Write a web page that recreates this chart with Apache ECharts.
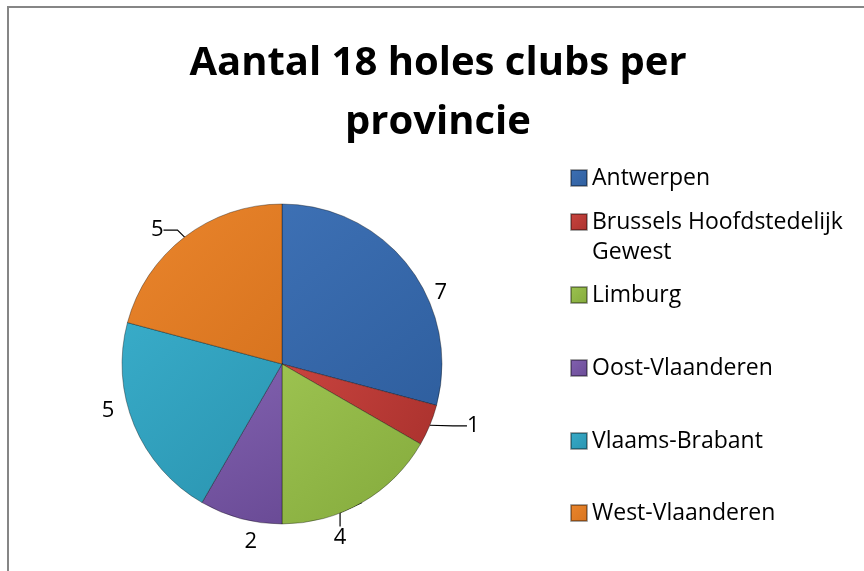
<!DOCTYPE html>
<html lang="nl">
<head>
    <meta charset="UTF-8">
    <title>Aantal 18 holes clubs per provincie</title>
    <script src="https://cdn.jsdelivr.net/npm/echarts@6/dist/echarts.min.js"></script>
    <style>
        html, body { margin: 0; padding: 0; background: #fff; }
        #main { width: 864px; height: 571px; }
    </style>
</head>
<body>
    <div id="main"></div>
</body>
<script>

    // gegevens
    var provincies = ['Antwerpen', 'Brussels Hoofdstedelijk Gewest', 'Limburg', 'Oost-Vlaanderen', 'Vlaams-Brabant', 'West-Vlaanderen'];
    var aantalClubs = [7, 1, 4, 2, 5, 5];
    var legendNames = ['Antwerpen', 'Brussels Hoofdstedelijk\nGewest', 'Limburg', 'Oost-Vlaanderen', 'Vlaams-Brabant', 'West-Vlaanderen'];

    // opmaak
    var kleuren = [
        ['#3d70b4', '#2f5f9f'],
        ['#c9443f', '#ab322e'],
        ['#9cc250', '#84aa3c'],
        ['#8262b0', '#6a4b96'],
        ['#38abc8', '#2a94b0'],
        ['#ea852c', '#d8741f']
    ];
    var legendTop = [163, 177, 280, 353, 426, 498];
    // label: extra hoek (graden) en afstand tot middelpunt, zoals Excel ze zet
    var labelHoek = [13.4, -4.6, 11.5, -5, 7.5, -5.5];
    var labelAfstand = [174, 201, 183, 180, 180, 183];
    var metLijn = [false, true, true, false, false, true];

    var cx = 282, cy = 364, straal = 160;
    var totaal = aantalClubs.reduce(function (a, b) { return a + b; }, 0);

    function grad(c) {
        return new echarts.graphic.LinearGradient(0, 0, 1, 1, [
            {offset: 0, color: c[0]},
            {offset: 1, color: c[1]}
        ]);
    }

    var pieData = provincies.map(function (p, i) {
        return {
            name: p,
            value: aantalClubs[i],
            itemStyle: {color: grad(kleuren[i])},
            labelLine: {show: metLijn[i]}
        };
    });

    var font = '"Open Sans", sans-serif';

    var legends = provincies.map(function (p, i) {
        return {
            orient: 'vertical',
            left: 570,
            top: legendTop[i],
            padding: 0,
            data: [p],
            // bij twee regels staat het blokje naast de eerste regel
            formatter: function () {
                return i === 1 ? '\n' + legendNames[i] : legendNames[i];
            },
            icon: 'rect',
            itemWidth: 16,
            itemHeight: 16,
            itemGap: 0,
            selectedMode: false,
            textStyle: {
                fontFamily: font,
                fontSize: 23,
                color: '#000',
                lineHeight: 30
            }
        };
    });

    var chart = echarts.init(document.getElementById('main'));
    chart.setOption({
        animation: false,
        title: {
            text: 'Aantal 18 holes clubs per\nprovincie',
            left: 438,
            textAlign: 'center',
            top: 34,
            padding: 0,
            textStyle: {
                fontFamily: font,
                fontWeight: 'bold',
                fontSize: 40,
                lineHeight: 59,
                color: '#000'
            }
        },
        legend: legends,
        graphic: [{
            type: 'rect',
            shape: {x: 8, y: 7, width: 900, height: 600},
            style: {fill: 'none', stroke: '#868686', lineWidth: 2},
            silent: true
        }],
        series: [{
            type: 'pie',
            center: [cx, cy],
            radius: straal,
            startAngle: 90,
            clockwise: true,
            data: pieData,
            itemStyle: {
                borderColor: 'rgba(0,0,0,0.35)',
                borderWidth: 1
            },
            label: {
                show: true,
                position: 'outside',
                formatter: '{c}',
                fontFamily: font,
                fontSize: 22,
                color: '#000'
            },
            labelLine: {
                length: 10,
                length2: 14,
                lineStyle: {color: '#000', width: 1.2}
            },
            labelLayout: function (params) {
                var i = params.dataIndex;
                var voor = 0;
                for (var k = 0; k < i; k++) voor += aantalClubs[k];
                var hoek = ((voor + aantalClubs[i] / 2) / totaal * 360 + labelHoek[i]) * Math.PI / 180;
                return {
                    x: cx + labelAfstand[i] * Math.sin(hoek),
                    y: cy - labelAfstand[i] * Math.cos(hoek),
                    align: 'center',
                    verticalAlign: 'middle'
                };
            },
            emphasis: {disabled: true}
        }]
    });

</script>
</html>
